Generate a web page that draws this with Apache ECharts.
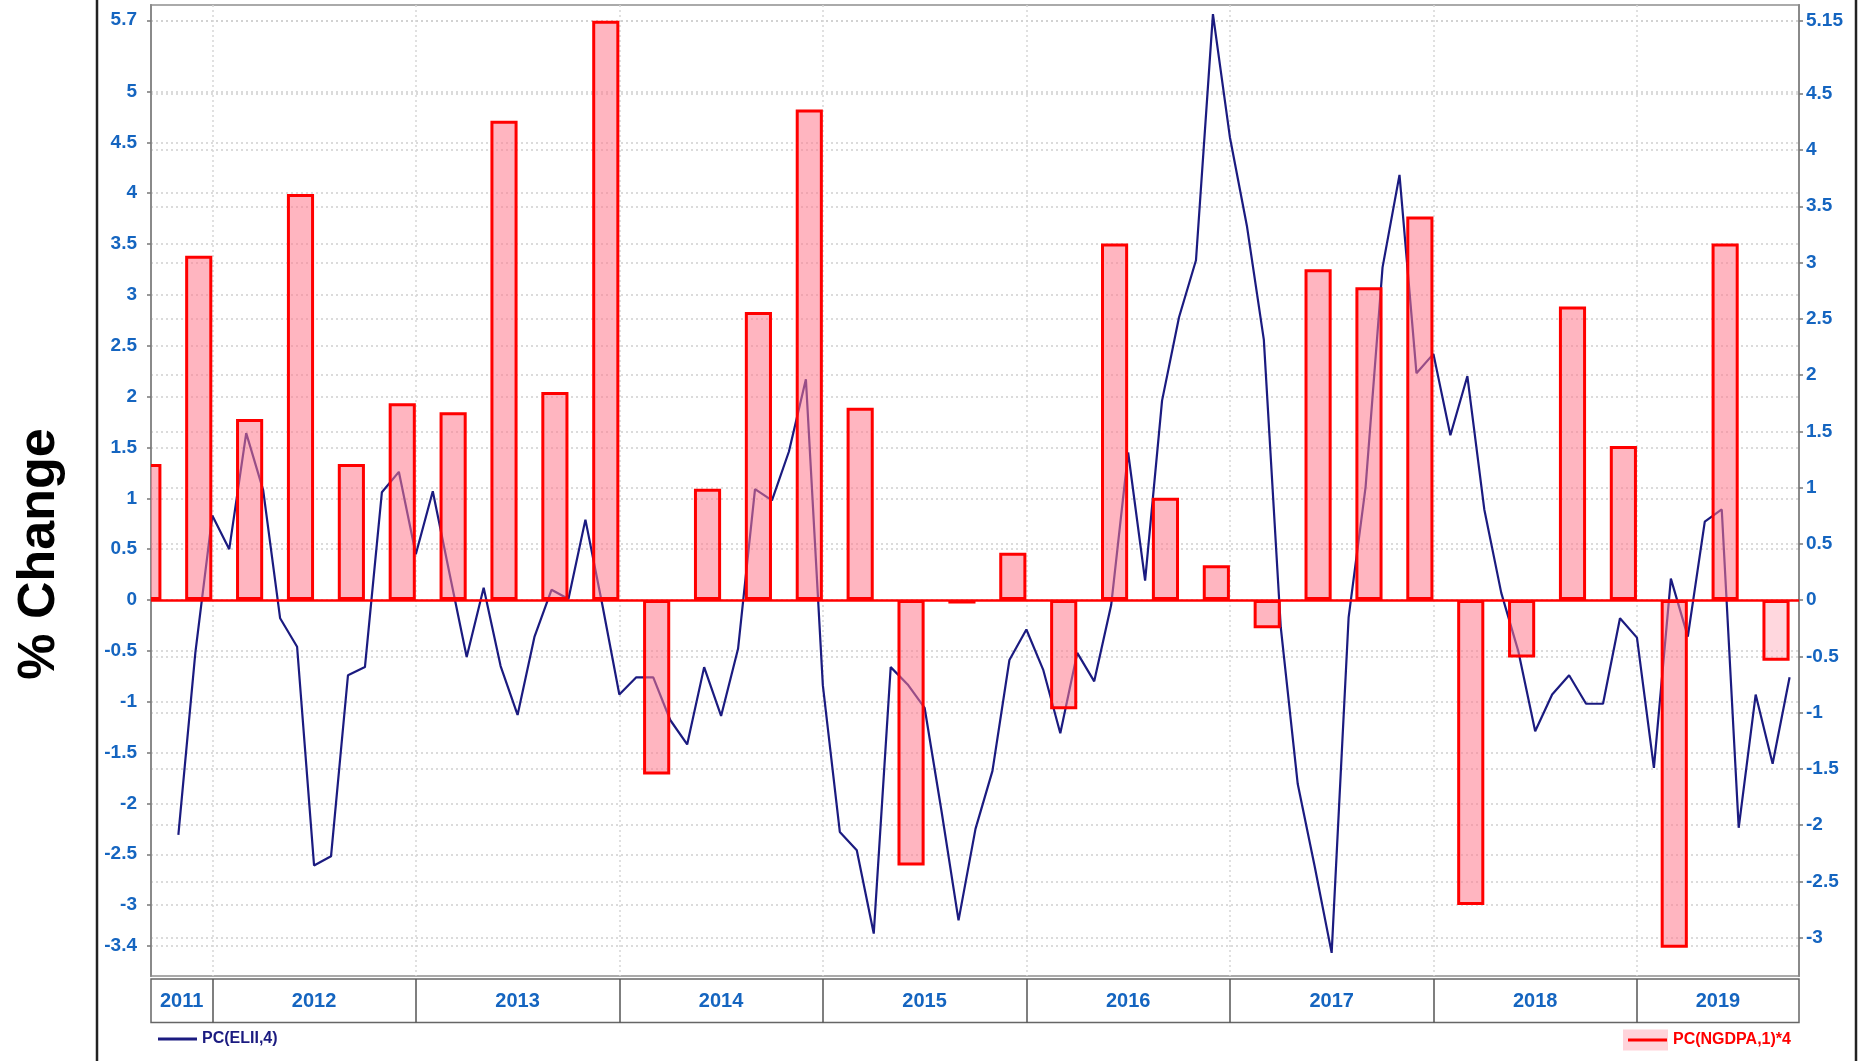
<!DOCTYPE html>
<html>
<head>
<meta charset="utf-8">
<title>PC(ELII,4) vs PC(NGDPA,1)*4</title>
<script src="https://cdn.jsdelivr.net/npm/echarts@6/dist/echarts.min.js"></script>
<style>
  html, body { margin: 0; padding: 0; background: #fff; }
  #chart { width: 1864px; height: 1061px; }
</style>
</head>
<body>
<div id="chart"></div>
<script>
// monthly series, first point = Oct 2011
const elliStart = [2011, 10];
const elliValues = [
  -2.31, -0.52, 0.83, 0.50, 1.64, 1.08, -0.18, -0.46, -2.61, -2.52, -0.74, -0.66,
  1.06, 1.26, 0.45, 1.07, 0.25, -0.56, 0.12, -0.65, -1.13, -0.36, 0.10, 0.01,
  0.79, -0.05, -0.93, -0.76, -0.76, -1.18, -1.42, -0.66, -1.14, -0.48, 1.09, 0.98,
  1.46, 2.17, -0.84, -2.28, -2.46, -3.28, -0.66, -0.83, -1.06, -2.08, -3.15, -2.25,
  -1.68, -0.59, -0.29, -0.69, -1.31, -0.52, -0.80, -0.05, 1.45, 0.19, 1.96, 2.78,
  3.34, 5.76, 4.55, 3.68, 2.56, -0.27, -1.81, -2.62, -3.47, -0.17, 1.11, 3.27,
  4.18, 2.23, 2.42, 1.62, 2.20, 0.89, 0.07, -0.50, -1.29, -0.93, -0.74, -1.02,
  -1.02, -0.18, -0.37, -1.65, 0.21, -0.36, 0.77, 0.89, -2.24, -0.93, -1.61, -0.76
];

// quarterly bars
const gdpQuarters = [
  '2011Q3', '2011Q4',
  '2012Q1', '2012Q2', '2012Q3', '2012Q4',
  '2013Q1', '2013Q2', '2013Q3', '2013Q4',
  '2014Q1', '2014Q2', '2014Q3', '2014Q4',
  '2015Q1', '2015Q2', '2015Q3', '2015Q4',
  '2016Q1', '2016Q2', '2016Q3', '2016Q4',
  '2017Q1', '2017Q2', '2017Q3', '2017Q4',
  '2018Q1', '2018Q2', '2018Q3', '2018Q4',
  '2019Q1', '2019Q2', '2019Q3'
];
const gdpValues = [
  1.21, 3.06,
  1.61, 3.61, 1.21, 1.75,
  1.67, 4.26, 1.85, 5.15,
  -1.55, 0.99, 2.56, 4.36,
  1.71, -2.36, -0.03, 0.42,
  -0.97, 3.17, 0.91, 0.31,
  -0.25, 2.94, 2.78, 3.41,
  -2.71, -0.51, 2.61, 1.37,
  -3.09, 3.17, -0.54
];

const years = ['2011', '2012', '2013', '2014', '2015', '2016', '2017', '2018', '2019'];
const leftTicks = [-3.4, -3, -2.5, -2, -1.5, -1, -0.5, 0, 0.5, 1, 1.5, 2, 2.5, 3, 3.5, 4, 4.5, 5, 5.7];
const rightTicks = [-3, -2.5, -2, -1.5, -1, -0.5, 0, 0.5, 1, 1.5, 2, 2.5, 3, 3.5, 4, 4.5, 5.15];

// x is counted in months, 0 = start of 2011, points sit at the end of their period
const X_MIN = 8.386, X_MAX = 105.555;
const LEFT_MIN = -3.697, LEFT_MAX = 5.850;
const RIGHT_MIN = -3.342, RIGHT_MAX = 5.289;
const BAR_SPAN = 1.6; // bar covers the last 1.6 months of its quarter

const FONT = '"Liberation Sans", Arial, sans-serif';
const BLUE = '#1565c0';
const NAVY = '#1b1b80';
const PINK = 'rgba(255, 120, 140, 0.55)';
const PINK_LIGHT = 'rgba(255, 175, 190, 0.5)';

function monthX(y, m) { return (y - 2011) * 12 + m; }

const lineData = elliValues.map((v, i) => [monthX(elliStart[0], elliStart[1] + i), v]);

const barData = gdpQuarters.map((q, i) => {
  const y = +q.slice(0, 4), qq = +q.slice(5);
  return [monthX(y, qq * 3), gdpValues[i]];
});

const yearBounds = years.slice(1).map(y => monthX(+y, 0));
const yearCenters = years.map(y => {
  const a = Math.max(X_MIN, monthX(+y, 0));
  const b = Math.min(X_MAX, monthX(+y, 12));
  return (a + b) / 2;
});

function renderBar(params, api) {
  const end = api.value(0), v = api.value(1);
  const p0 = api.coord([end - BAR_SPAN, 0]);
  const p1 = api.coord([end, v]);
  const top = Math.min(p0[1], p1[1]);
  const h = Math.abs(p1[1] - p0[1]);
  const last = params.dataIndex === gdpValues.length - 1;
  return {
    type: 'rect',
    shape: { x: p0[0] + 1.5, y: top + 1.5, width: p1[0] - p0[0] - 3, height: Math.max(h - 3, 0.5) },
    style: { fill: last ? PINK_LIGHT : PINK, stroke: '#ff0000', lineWidth: 3 }
  };
}

const chart = echarts.init(document.getElementById('chart'));

chart.setOption({
  animation: false,
  backgroundColor: '#fff',
  grid: [
    { left: 151, right: 65, top: 5, bottom: 85, show: true, borderColor: '#aaa', borderWidth: 2 },
    { left: 151, right: 65, top: 979, bottom: 38.5, show: true, borderColor: '#666', borderWidth: 1.5 }
  ],
  xAxis: [
    {
      type: 'value', gridIndex: 0, min: X_MIN, max: X_MAX,
      axisLine: { show: false },
      axisTick: { show: false, customValues: yearBounds },
      axisLabel: { show: false },
      splitLine: { show: true, lineStyle: { color: '#d6d6d6', type: [2, 3], width: 1.5 } }
    },
    {
      type: 'value', gridIndex: 1, position: 'top', min: X_MIN, max: X_MAX,
      axisLine: { show: false },
      axisTick: { show: false, customValues: yearBounds },
      axisLabel: {
        inside: true, margin: 22, verticalAlign: 'middle',
        customValues: yearCenters,
        formatter: v => {
          const i = yearCenters.findIndex(c => Math.abs(c - v) < 1e-6);
          return i >= 0 ? years[i] : '';
        },
        color: BLUE, fontSize: 20, fontWeight: 'bold', fontFamily: FONT
      },
      splitLine: { show: true, lineStyle: { color: '#555', width: 1.5 } }
    }
  ],
  yAxis: [
    {
      type: 'value', gridIndex: 0, position: 'left', min: LEFT_MIN, max: LEFT_MAX,
      axisLine: { show: true, lineStyle: { color: '#8a8a8a', width: 2 } },
      axisTick: { show: true, length: 4, customValues: leftTicks, lineStyle: { color: '#777', width: 1.5 } },
      axisLabel: {
        customValues: leftTicks, margin: 14, formatter: v => String(v),
        color: BLUE, fontSize: 19, fontWeight: 'bold', fontFamily: FONT
      },
      splitLine: { show: true, lineStyle: { color: '#cfcfcf', type: [2, 3], width: 1.5 } }
    },
    {
      type: 'value', gridIndex: 0, position: 'right', min: RIGHT_MIN, max: RIGHT_MAX,
      axisLine: { show: true, lineStyle: { color: '#8a8a8a', width: 2 } },
      axisTick: { show: true, length: 4, customValues: rightTicks, lineStyle: { color: '#777', width: 1.5 } },
      axisLabel: {
        customValues: rightTicks, margin: 7, formatter: v => String(v),
        color: BLUE, fontSize: 19, fontWeight: 'bold', fontFamily: FONT
      },
      splitLine: { show: true, lineStyle: { color: '#cfcfcf', type: [2, 3], width: 1.5 } }
    },
    { type: 'value', gridIndex: 1, min: 0, max: 1, show: false }
  ],
  legend: [
    {
      data: ['PC(ELII,4)'], left: 158, top: 1031, padding: 0, selectedMode: false,
      icon: 'rect', itemWidth: 39, itemHeight: 3,
      textStyle: { color: NAVY, fontSize: 16, fontWeight: 'bold', fontFamily: FONT }
    },
    {
      data: ['PC(NGDPA,1)*4'], left: 1623, top: 1029.5, padding: 0, selectedMode: false,
      icon: 'rect', itemWidth: 45, itemHeight: 21,
      itemStyle: { color: '#ffd3da', borderWidth: 0 },
      textStyle: { color: '#ff0000', fontSize: 16, fontWeight: 'bold', fontFamily: FONT }
    }
  ],
  graphic: [
    { type: 'line', shape: { x1: 97, y1: 0, x2: 97, y2: 1061 }, style: { stroke: '#222', lineWidth: 2.5 } },
    { type: 'line', shape: { x1: 1856, y1: 0, x2: 1856, y2: 1061 }, style: { stroke: '#222', lineWidth: 2.5 } },
    { type: 'line', shape: { x1: 1628, y1: 1040, x2: 1667, y2: 1040 }, style: { stroke: '#ff0000', lineWidth: 3 }, z: 100 },
    {
      type: 'text', x: 40, y: 554, rotation: Math.PI / 2,
      style: {
        text: '% Change', fill: '#000', fontSize: 52, fontWeight: 'bold',
        fontFamily: FONT, align: 'center', verticalAlign: 'middle'
      }
    }
  ],
  series: [
    {
      name: 'PC(ELII,4)', type: 'line', xAxisIndex: 0, yAxisIndex: 0,
      data: lineData, showSymbol: false, symbol: 'none', clip: false,
      lineStyle: { color: NAVY, width: 2.2 },
      itemStyle: { color: NAVY },
      z: 2,
      markLine: {
        silent: true, symbol: 'none', label: { show: false },
        lineStyle: { color: '#ff0000', type: 'solid', width: 2.5 },
        data: [{ yAxis: 0 }]
      }
    },
    {
      name: 'PC(NGDPA,1)*4', type: 'custom', xAxisIndex: 0, yAxisIndex: 1,
      data: barData, encode: { x: 0, y: 1 }, clip: true,
      renderItem: renderBar,
      itemStyle: { color: PINK },
      z: 3
    }
  ]
});
</script>
</body>
</html>
